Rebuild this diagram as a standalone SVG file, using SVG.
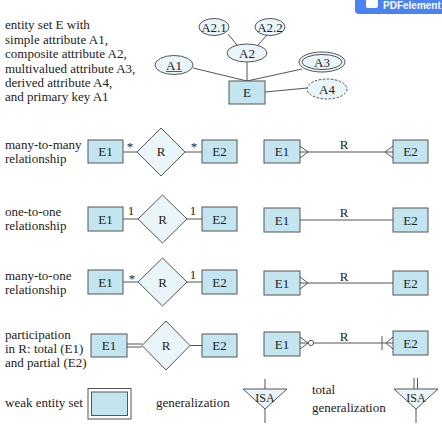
<svg xmlns="http://www.w3.org/2000/svg" width="442" height="426" viewBox="0 0 442 426">
<style>
text{font-family:"Liberation Serif","Times New Roman",serif;font-size:13px;fill:#222}
.lbl{text-anchor:middle}
.ent{fill:#c3e5f0;stroke:#555;stroke-width:1}
.att{fill:#eaf5f9;stroke:#555;stroke-width:1}
.ln{stroke:#555;stroke-width:1;fill:none}
.badge{font-family:"Liberation Sans",Arial,sans-serif;font-weight:bold;font-size:10px;fill:#fff}
</style>
<rect width="442" height="426" fill="#fff"/>
<!-- badge -->
<g id="badge">
<rect x="355" y="-6" width="92" height="20" rx="4" fill="#4b82f2"/>
<rect x="366" y="-2" width="12" height="10" rx="2" fill="#fff"/>
<text class="badge" x="383" y="9">PDFelement</text>
</g>
<!-- left descriptions -->
<g id="descriptions">
<text x="5" y="29">entity set E with</text>
<text x="5" y="44">simple attribute A1,</text>
<text x="5" y="58">composite attribute A2,</text>
<text x="5" y="73">multivalued attribute A3,</text>
<text x="5" y="87">derived attribute A4,</text>
<text x="5" y="101">and primary key A1</text>
<text x="5" y="149">many-to-many</text>
<text x="5" y="163">relationship</text>
<text x="5" y="216">one-to-one</text>
<text x="5" y="230">relationship</text>
<text x="5" y="280">many-to-one</text>
<text x="5" y="294">relationship</text>
<text x="5" y="339">participation</text>
<text x="5" y="353">in R: total (E1)</text>
<text x="5" y="367">and partial (E2)</text>
<text x="5" y="407">weak entity set</text>
<text x="156" y="407">generalization</text>
<text x="312" y="394">total</text>
<text x="312" y="412">generalization</text>
</g>
<!-- connectors -->
<g id="connectors">
<line class="ln" x1="247" y1="81" x2="193" y2="68"/>
<line class="ln" x1="247" y1="81" x2="247" y2="62"/>
<line class="ln" x1="247" y1="81" x2="302" y2="69"/>
<line class="ln" x1="265" y1="92" x2="307" y2="88"/>
<line class="ln" x1="237" y1="45" x2="228" y2="34"/>
<line class="ln" x1="258" y1="45" x2="267" y2="35"/>
<!-- row 2 -->
<line class="ln" x1="123" y1="152" x2="137" y2="152"/>
<line class="ln" x1="185" y1="152" x2="202" y2="152"/>
<line class="ln" x1="300" y1="152" x2="393" y2="152"/>
<polyline class="ln" points="300,146 308,152 300,158"/>
<polyline class="ln" points="393,146 385,152 393,158"/>
<!-- row 3 -->
<line class="ln" x1="123" y1="219" x2="138" y2="219"/>
<line class="ln" x1="187" y1="219" x2="202" y2="219"/>
<line class="ln" x1="300" y1="220" x2="393" y2="220"/>
<!-- row 4 -->
<line class="ln" x1="123" y1="282" x2="138" y2="282"/>
<line class="ln" x1="187" y1="282" x2="202" y2="282"/>
<line class="ln" x1="300" y1="283" x2="393" y2="283"/>
<polyline class="ln" points="300,277 308,283 300,289"/>
<!-- row 5 -->
<line class="ln" x1="127" y1="344" x2="142" y2="344"/>
<line class="ln" x1="127" y1="347" x2="142" y2="347"/>
<line class="ln" x1="190" y1="345.5" x2="202" y2="345.5"/>
<polyline class="ln" points="300,337 308,343 300,349"/>
<line class="ln" x1="300" y1="343" x2="308" y2="343"/>
<circle cx="311" cy="343" r="2.6" fill="#fff" stroke="#555" stroke-width="1"/>
<line class="ln" x1="313.6" y1="343" x2="393" y2="343"/>
<line class="ln" x1="382" y1="336" x2="382" y2="350"/>
<polyline class="ln" points="393,337 386,343 393,349"/>
<!-- generalization -->
<line class="ln" x1="265" y1="379" x2="265" y2="389"/>
<line class="ln" x1="265" y1="409" x2="265" y2="423"/>
<line class="ln" x1="414" y1="378" x2="414" y2="389"/>
<line class="ln" x1="417.5" y1="378" x2="417.5" y2="389"/>
<line class="ln" x1="416" y1="409" x2="416" y2="423"/>
</g>
<g id="connector-labels">
<text class="lbl" x="130" y="151">*</text>
<text class="lbl" x="194" y="151">*</text>
<text class="lbl" x="131" y="215">1</text>
<text class="lbl" x="193" y="215">1</text>
<text class="lbl" x="132" y="283">*</text>
<text class="lbl" x="193" y="279">1</text>
<text class="lbl" x="344" y="149">R</text>
<text class="lbl" x="344" y="217">R</text>
<text class="lbl" x="344" y="281">R</text>
<text class="lbl" x="344" y="341">R</text>
</g>
<!-- attribute diagram -->
<g id="A2.1"><ellipse class="att" cx="214" cy="27" rx="15" ry="8.5"/><text class="lbl" x="214" y="31.5">A2.1</text></g>
<g id="A2.2"><ellipse class="att" cx="270" cy="27" rx="15" ry="8.5"/><text class="lbl" x="270" y="31.5">A2.2</text></g>
<g id="A2"><ellipse class="att" cx="247" cy="53" rx="20" ry="9"/><text class="lbl" x="247" y="57.5">A2</text></g>
<g id="A1"><ellipse class="att" cx="174" cy="65" rx="19" ry="9.5"/><text class="lbl" x="174" y="69.5">A1</text><line x1="166" y1="71.5" x2="182" y2="71.5" stroke="#333" stroke-width="0.8"/></g>
<g id="A3"><ellipse class="att" cx="322" cy="62" rx="23" ry="10"/><ellipse cx="322" cy="62" rx="20" ry="7.5" fill="none" stroke="#555" stroke-width="1"/><text class="lbl" x="322" y="66.5">A3</text></g>
<g id="A4"><ellipse class="att" cx="327" cy="89" rx="20" ry="10" stroke-dasharray="2.5,1.5"/><text class="lbl" x="327" y="93.5">A4</text></g>
<g id="E"><rect class="ent" x="229" y="81" width="36" height="23"/><text class="lbl" x="247" y="96.5">E</text></g>
<!-- row 2 -->
<g id="r2-E1"><rect class="ent" x="88" y="140" width="35" height="23"/><text class="lbl" x="105.5" y="156">E1</text></g>
<g id="r2-R"><polygon class="att" points="161,128 185,152 161,176 137,152"/><text class="lbl" x="161" y="156">R</text></g>
<g id="r2-E2"><rect class="ent" x="202" y="140" width="35" height="23"/><text class="lbl" x="219.5" y="156">E2</text></g>
<g id="r2-E1b"><rect class="ent" x="264" y="140" width="36" height="23"/><text class="lbl" x="282" y="156">E1</text></g>
<g id="r2-E2b"><rect class="ent" x="393" y="140" width="35" height="23"/><text class="lbl" x="410.5" y="156">E2</text></g>
<!-- row 3 -->
<g id="r3-E1"><rect class="ent" x="88" y="207" width="35" height="24"/><text class="lbl" x="105.5" y="223.5">E1</text></g>
<g id="r3-R"><polygon class="att" points="162.5,195 187,219 162.5,243 138,219"/><text class="lbl" x="162.5" y="223.5">R</text></g>
<g id="r3-E2"><rect class="ent" x="202" y="207" width="35" height="24"/><text class="lbl" x="219.5" y="223.5">E2</text></g>
<g id="r3-E1b"><rect class="ent" x="264" y="208" width="36" height="24"/><text class="lbl" x="282" y="224.5">E1</text></g>
<g id="r3-E2b"><rect class="ent" x="393" y="208" width="35" height="24"/><text class="lbl" x="410.5" y="224.5">E2</text></g>
<!-- row 4 -->
<g id="r4-E1"><rect class="ent" x="88" y="270" width="35" height="24"/><text class="lbl" x="105.5" y="286.5">E1</text></g>
<g id="r4-R"><polygon class="att" points="162.5,258 187,282 162.5,306 138,282"/><text class="lbl" x="162.5" y="286.5">R</text></g>
<g id="r4-E2"><rect class="ent" x="202" y="270" width="35" height="24"/><text class="lbl" x="219.5" y="286.5">E2</text></g>
<g id="r4-E1b"><rect class="ent" x="264" y="271" width="36" height="24"/><text class="lbl" x="282" y="287.5">E1</text></g>
<g id="r4-E2b"><rect class="ent" x="393" y="271" width="35" height="24"/><text class="lbl" x="410.5" y="287.5">E2</text></g>
<!-- row 5 -->
<g id="r5-E1"><rect class="ent" x="91" y="334" width="36" height="23"/><text class="lbl" x="109" y="350">E1</text></g>
<g id="r5-R"><polygon class="att" points="166,321 190,345.5 166,370 142,345.5"/><text class="lbl" x="166" y="350">R</text></g>
<g id="r5-E2"><rect class="ent" x="202" y="334" width="35" height="23"/><text class="lbl" x="219.5" y="350">E2</text></g>
<g id="r5-E1b"><rect class="ent" x="264" y="332" width="36" height="24"/><text class="lbl" x="282" y="348.5">E1</text></g>
<g id="r5-E2b"><rect class="ent" x="393" y="331" width="35" height="24"/><text class="lbl" x="410.5" y="347.5">E2</text></g>
<!-- weak entity -->
<g id="weak-entity"><rect x="88" y="388.5" width="43" height="30.5" fill="#fff" stroke="#555" stroke-width="1"/><rect class="ent" x="91.5" y="392" width="36" height="23.5"/></g>
<!-- ISA -->
<g id="isa1"><polygon class="att" points="243,389 287,389 265,409"/><text class="lbl" x="265" y="402" style="font-size:12px">ISA</text></g>
<g id="isa2"><polygon class="att" points="394,389 438,389 416,409"/><text class="lbl" x="416" y="402" style="font-size:12px">ISA</text></g>
</svg>
